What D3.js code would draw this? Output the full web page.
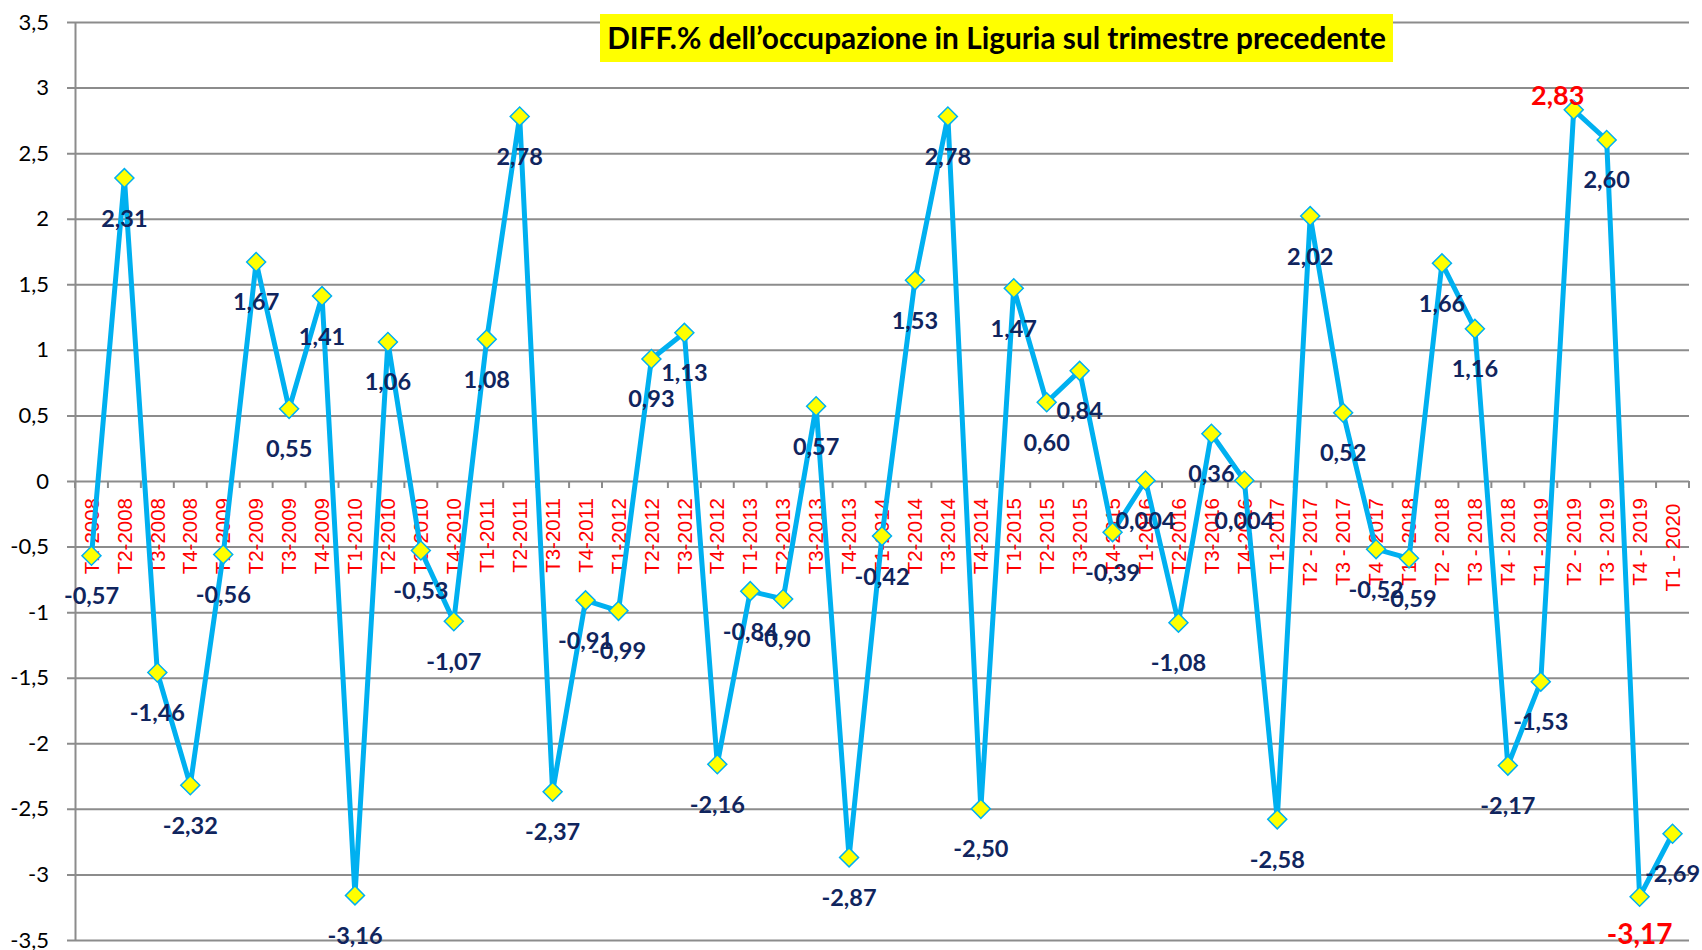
<!DOCTYPE html>
<html>
<head>
<meta charset="utf-8">
<script src="https://cdn.jsdelivr.net/npm/d3@7"></script>
<style>
  body { margin: 0; background: #fff; }
</style>
</head>
<body>
<div id="chart"></div>
<script>
var categories = [
  "T1-2008", "T2-2008", "T3-2008", "T4-2008",
  "T1-2009", "T2-2009", "T3-2009", "T4-2009",
  "T1-2010", "T2-2010", "T3-2010", "T4-2010",
  "T1-2011", "T2-2011", "T3-2011", "T4-2011",
  "T1-2012", "T2-2012", "T3-2012", "T4-2012",
  "T1-2013", "T2-2013", "T3-2013", "T4-2013",
  "T1-2014", "T2-2014", "T3-2014", "T4-2014",
  "T1-2015", "T2-2015", "T3-2015", "T4-2015",
  "T1-2016", "T2-2016", "T3-2016", "T4-2016",
  "T1-2017", "T2 - 2017", "T3 - 2017", "T4 - 2017",
  "T1 - 2018", "T2 - 2018", "T3 - 2018", "T4 - 2018",
  "T1 - 2019", "T2 - 2019", "T3 - 2019", "T4 - 2019",
  "T1 - 2020 "
];
var values = [
  -0.57, 2.31, -1.46, -2.32,
  -0.56, 1.67, 0.55, 1.41,
  -3.16, 1.06, -0.53, -1.07,
  1.08, 2.78, -2.37, -0.91,
  -0.99, 0.93, 1.13, -2.16,
  -0.84, -0.90, 0.57, -2.87,
  -0.42, 1.53, 2.78, -2.50,
  1.47, 0.60, 0.84, -0.39,
  0.004, -1.08, 0.36, 0.004,
  -2.58, 2.02, 0.52, -0.52,
  -0.59, 1.66, 1.16, -2.17,
  -1.53, 2.83, 2.60, -3.17,
  -2.69
];
var yTicks = [-3.5, -3, -2.5, -2, -1.5, -1, -0.5, 0, 0.5, 1, 1.5, 2, 2.5, 3, 3.5];
var title = "DIFF.% dell\u2019occupazione in Liguria sul trimestre precedente";

var w = 1702, h = 950;
var svg = d3.select("#chart").append("svg").attr("width", w).attr("height", h);

var x = d3.scaleBand().domain(categories).range([75, 1689]);
var y = d3.scaleLinear().domain([-3.5, 3.5]).range([940, 22]);
function cx(d) {
  return x(d) + x.bandwidth() / 2;
}

var it = d3.formatLocale({
  decimal: ",", thousands: ".", grouping: [3], currency: ["", " \u20ac"], minus: "-"
});
var tickFmt = it.format(".1~f");
function labelFmt(v) {
  return Math.abs(v) < 0.01 ? it.format(".3f")(v) : it.format(".2f")(v);
}

var gridColor = "#8c8c8c";

// y axis with gridlines
var yAxis = svg.append("g")
  .attr("transform", "translate(75,0)")
  .call(d3.axisLeft(y).tickValues(yTicks).tickFormat(tickFmt)
    .tickSizeInner(-(1689 - 75)).tickSizeOuter(0).tickPadding(26));
yAxis.select(".domain").style("stroke", gridColor).style("stroke-width", 2);
yAxis.selectAll(".tick line")
  .attr("x1", -8)
  .style("stroke", gridColor).style("stroke-width", 2);
yAxis.selectAll(".tick text")
  .style("font-family", "Lato, sans-serif")
  .style("font-size", "22px")
  .style("fill", "#000");

// x axis: line at 0, ticks between categories
var y0 = y(0);
var bounds = categories.map(function (c) { return x(c); });
bounds.push(x.range()[1]);
svg.append("g").selectAll("line")
  .data(bounds)
  .enter()
  .append("line")
  .attr("x1", function (d) { return d; })
  .attr("x2", function (d) { return d; })
  .attr("y1", y0)
  .attr("y2", y0 + 7)
  .style("stroke", gridColor)
  .style("stroke-width", 2);

svg.append("g").selectAll("text")
  .data(categories)
  .enter()
  .append("text")
  .text(function (d) { return d; })
  .attr("transform", function (d) {
    return "translate(" + cx(d) + "," + (y0 + 17) + ") rotate(-90)";
  })
  .attr("dy", "0.35em")
  .attr("text-anchor", "end")
  .style("white-space", "pre")
  .style("font-family", "'Liberation Sans', Arial, sans-serif")
  .style("font-size", "20.5px")
  .style("fill", "#ff0000");

// series line
var line = d3.line()
  .x(function (d, i) { return cx(categories[i]); })
  .y(function (d) { return y(d); });

svg.append("path")
  .datum(values)
  .attr("d", line)
  .style("fill", "none")
  .style("stroke", "#00b0f0")
  .style("stroke-width", 5)
  .style("stroke-linejoin", "round");

// markers
var diamond = d3.symbol().type(d3.symbolSquare).size(180);
svg.append("g").selectAll("path")
  .data(values)
  .enter()
  .append("path")
  .attr("d", diamond)
  .attr("transform", function (d, i) {
    return "translate(" + cx(categories[i]) + "," + y(d) + ") rotate(45)";
  })
  .style("fill", "#ffff00")
  .style("stroke", "#00b0f0")
  .style("stroke-width", 1.5);

// data labels
var iMax = d3.maxIndex(values), iMin = d3.minIndex(values);
svg.append("g").selectAll("text")
  .data(values)
  .enter()
  .append("text")
  .text(function (d) { return labelFmt(d); })
  .attr("x", function (d, i) {
    return i === iMax ? cx(categories[i]) - 16 : cx(categories[i]);
  })
  .attr("y", function (d, i) {
    if (i === iMax) return y(d) - 15;
    if (i === iMin) return y(d) + 37;
    return y(d) + 40;
  })
  .attr("dy", "0.36em")
  .attr("text-anchor", "middle")
  .style("font-family", "Lato, sans-serif")
  .style("font-weight", "bold")
  .style("font-size", function (d, i) {
    return i === iMax ? "27px" : i === iMin ? "28px" : "23.5px";
  })
  .style("fill", function (d, i) {
    return i === iMax || i === iMin ? "#ff0000" : "#10255e";
  });

// title box
svg.append("rect")
  .attr("x", 600).attr("y", 14).attr("width", 793).attr("height", 48)
  .style("fill", "#ffff00");
var titleText = svg.append("text")
  .text(title)
  .attr("x", 996.5)
  .attr("y", 49)
  .attr("text-anchor", "middle")
  .style("font-family", "Lato, sans-serif")
  .style("font-weight", "bold")
  .style("font-size", "28px")
  .style("fill", "#000");
var tw = titleText.node().getComputedTextLength();
titleText.style("font-size", (28 * 779 / tw) + "px");
</script>
</body>
</html>
